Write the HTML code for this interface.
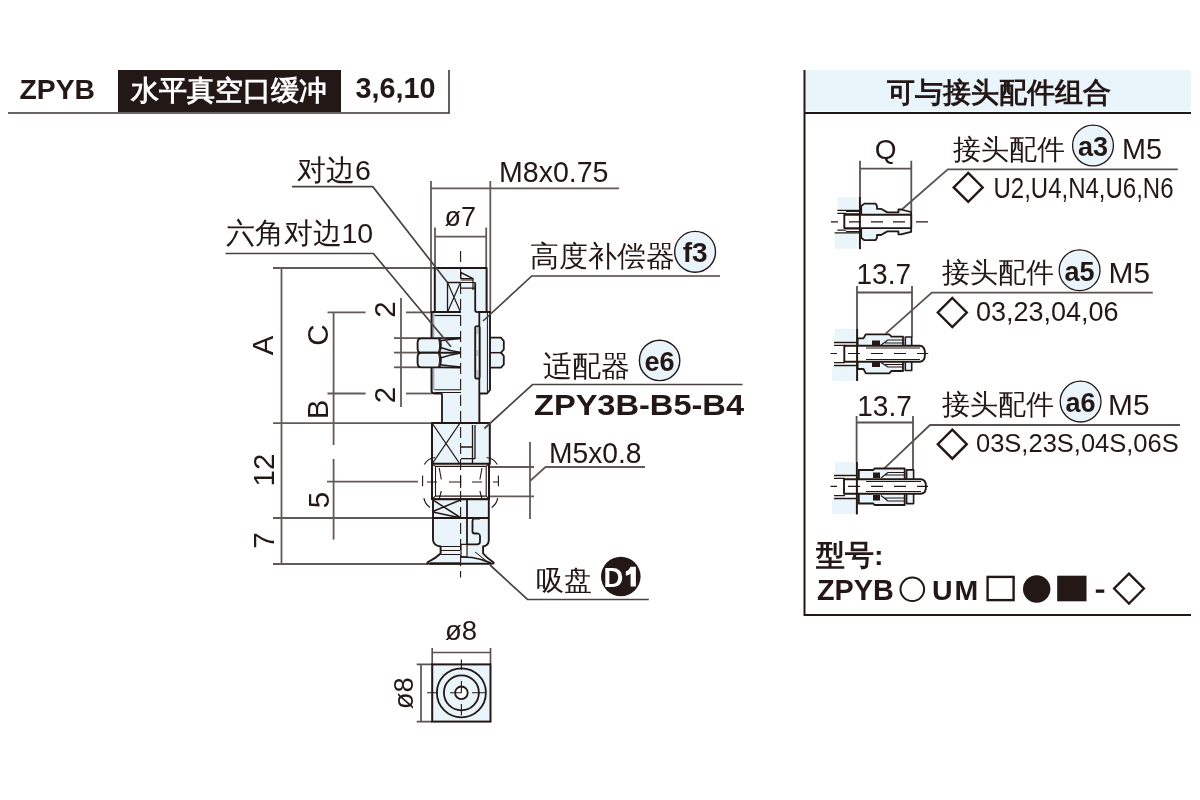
<!DOCTYPE html>
<html><head><meta charset="utf-8">
<style>
html,body{margin:0;padding:0;background:#fff;width:1200px;height:800px;overflow:hidden}
svg{display:block;font-family:"Liberation Sans",sans-serif;will-change:transform}
.d{stroke:#231815;fill:none}
.t{fill:#231815}
.b{font-weight:bold}
</style></head><body>
<svg width="1200" height="800" viewBox="0 0 1200 800">
<!-- HEADER -->
<g id="hdr">
 <text class="t b" x="19.5" y="99" font-size="28.3">ZPYB</text>
 <rect x="118" y="70" width="223" height="43.5" fill="#231815"/>
 <text class="b" x="131" y="100" font-size="28" fill="#fff">水平真空口缓冲</text>
 <text class="t b" x="355.5" y="97.5" font-size="28.8">3,6,10</text>
 <line x1="8" y1="113" x2="449.5" y2="113" stroke="#6a6462" stroke-width="2"/>
 <line x1="449" y1="70" x2="449" y2="113.5" stroke="#4a4240" stroke-width="1.7"/>
</g>

<!-- LEFT DRAWING -->
<g id="dims" stroke="#625a58" fill="none" stroke-width="1.8">
 <!-- M8 -->
 <line x1="431" y1="181" x2="431" y2="312"/>
 <line x1="490.3" y1="181" x2="490.3" y2="312"/>
 <line x1="431" y1="188.3" x2="619" y2="188.3"/>
 <!-- o7 -->
 <line x1="435" y1="227.5" x2="435" y2="268"/>
 <line x1="486.2" y1="227.5" x2="486.2" y2="268"/>
 <line x1="435" y1="236.6" x2="486.2" y2="236.6"/>
 <!-- horizontal ext lines -->
 <line x1="273" y1="268" x2="435" y2="268"/>
 <line x1="273" y1="423.2" x2="432" y2="423.2"/>
 <line x1="273" y1="518" x2="432" y2="518"/>
 <line x1="273" y1="564" x2="428" y2="564"/>
 <line x1="281.5" y1="268" x2="281.5" y2="564"/>
 <line x1="333.6" y1="312" x2="333.6" y2="445"/>
 <line x1="333.6" y1="459" x2="333.6" y2="539.6"/>
 <line x1="327.5" y1="312.4" x2="365.6" y2="312.4"/>
 <line x1="406" y1="312.4" x2="435" y2="312.4"/>
 <line x1="327.5" y1="393.5" x2="365.6" y2="393.5"/>
 <line x1="406" y1="393.5" x2="432" y2="393.5"/>
 <line x1="401" y1="298" x2="401" y2="407"/>
 <line x1="394" y1="338.1" x2="420" y2="338.1"/>
 <line x1="394" y1="352.6" x2="420" y2="352.6"/>
 <line x1="394" y1="367.3" x2="420" y2="367.3"/>
 <line x1="327" y1="481.6" x2="418" y2="481.6"/>
 <!-- M5 right -->
 <line x1="490" y1="467" x2="534" y2="467"/>
 <line x1="490" y1="496.3" x2="534" y2="496.3"/>
 <line x1="530" y1="442" x2="530" y2="519"/>
 <polyline points="530,481 545.5,467 645,467"/>
</g>

<!-- PART -->
<g id="part" stroke="#231815" stroke-linejoin="round">
 <!-- nuts right -->
 <path d="M489,337.7 L501,337.7 L503.8,341 L503.8,349.5 L501,352.7 L503.8,356 L503.8,364.5 L501,367.7 L489,367.7 Z" fill="#e9f4fb" stroke-width="1.8"/>
 <line x1="490" y1="352.7" x2="501" y2="352.7" stroke-width="1.5"/>
 <!-- threaded body -->
 <rect x="431.5" y="312" width="58.5" height="81.5" fill="#e9f4fb" stroke="none"/>
 <rect x="432" y="313" width="2.4" height="77" fill="#a9b0b6" stroke="none"/>
 <path d="M460.75,312 L431.5,312 L431.5,390.5 Q431.5,393.5 434.5,393.5 L442,393.5" fill="none" stroke-width="1.9"/>
 <path d="M477.4,312 L490,312 L490,390 L487,393.5 L479.3,393.5" fill="none" stroke-width="1.9"/>
 <line x1="434.5" y1="315.5" x2="460.6" y2="315.5" stroke-width="1.2"/>
 <path d="M434.5,389.8 L461,389.8 M434.5,392.6 L461,392.6" stroke-width="1.1" fill="none"/>
 <line x1="479.3" y1="312" x2="479.3" y2="423" stroke-width="1.8"/>
 <line x1="487.4" y1="312" x2="487.4" y2="392" stroke-width="1"/>
 <rect x="475.1" y="326" width="4.6" height="52.7" rx="2" fill="#b8bec4" stroke-width="1.7"/>
 <path d="M477.4,334 L477.4,350 M477.4,356 L477.4,370" stroke="#fff" stroke-width="1.2" fill="none"/>
 <!-- nuts left -->
 <path d="M439.2,338.2 L421.5,338.2 Q417.6,338.2 417.6,342.5 L417.6,348.5 Q417.6,352.8 421.5,352.8 L439.2,352.8 Q441,345.5 439.2,338.2 Z" fill="#e9f4fb" stroke-width="1.9"/>
 <path d="M439.2,352.8 L421.5,352.8 Q417.6,352.8 417.6,357 L417.6,363 Q417.6,367.4 421.5,367.4 L439.2,367.4 Q441,360 439.2,352.8 Z" fill="#e9f4fb" stroke-width="1.9"/>
 <path d="M439.2,338.2 L460.9,338.2 L460.9,367.4 L439.2,367.4 Q441,360 439.2,352.8 Q441,345.5 439.2,338.2 Z" fill="#e9f4fb" stroke="none"/>
 <path d="M439.2,338.2 L460.9,338 M439.2,352.8 L460.9,352.8 M439.2,367.4 L460.9,367.6" fill="none" stroke-width="1.9"/>
 <path d="M440.5,340.8 Q450,339.5 460.9,338.5 M440.5,347.5 Q450,351 460.9,352.5 M440.5,358 Q450,354.5 460.9,353 M440.5,364.8 Q450,366.2 460.9,367" fill="none" stroke-width="1.6"/>
 <path d="M439.2,338.2 Q442.5,345.5 439.2,352.8 Q442.5,360 439.2,367.4" fill="none" stroke-width="2"/>
 <!-- hex top -->
 <rect x="434.8" y="268" width="51.8" height="44" fill="#e9f4fb" stroke="none"/>
 <path d="M460.75,312 L434.8,312 L434.8,268 L486.6,268 L486.6,312 L477.4,312" fill="none" stroke-width="2"/>
 <path d="M447.5,312 L447.5,282.5 L460.75,282.5" stroke-width="1.3" fill="none"/>
 <path d="M447.5,282.5 L460.5,312 M460.5,282.5 L447.5,312" stroke-width="1.2" fill="none"/>
 <path d="M460.75,272.5 L473,278.6 L460.75,278.6 Z" fill="#fff" stroke-width="1.4"/>
 <path d="M460.75,280 L473,280 M460.75,282.5 L475.2,282.5 M460.75,288.2 L475.2,288.2 M473,278.6 L473,290" fill="none" stroke-width="1.2"/>
 <path d="M475.2,282.5 L475.2,309.7 Q475.2,312 477.4,312" fill="none" stroke-width="1.8"/>
 <!-- lower shaft -->
 <rect x="442" y="393" width="37.3" height="30" fill="#e9f4fb" stroke="none"/>
 <path d="M442,393.5 L442,423 M479.3,393 L479.3,423" stroke-width="1.8" fill="none"/>
 <!-- lower hex -->
 <rect x="432" y="423" width="57.8" height="41" fill="#e9f4fb" stroke-width="2"/>
 <path d="M432,423 L460,464 M460,423 L432,464" fill="none" stroke-width="1.3"/>
 <path d="M472.5,425 L472.5,466 M475,425 L475,459 M461,447 L473,447 M461,458.7 L475,458.7" fill="none" stroke-width="1.3"/>
 <!-- thread hole -->
 <rect x="432" y="463.8" width="57" height="35.4" fill="#fff" stroke-width="2"/>
 <path d="M432.5,464.5 L435.5,466.4 L486.2,466.4 L488.5,464.5 M432.5,498.5 L435.5,496.1 L486.2,496.1 L488.5,498.5 M435.5,466.4 L435.5,496.1 M486.2,466.4 L486.2,496.1" stroke-width="1.1" fill="none"/>
 <path d="M427,482 L437,482 M449,482 L460,482 M472,482 L482,482 M493,482 L498.4,482" stroke-width="1" fill="none"/>
 <path d="M422.6,475.6 L422.6,486.3 M460.6,476 L460.6,488 M498.4,475.6 L498.4,486.3" stroke-width="1.1" fill="none"/>
 <path d="M439.2,468 L441.3,479.5 M441.3,491 L439.2,499 M482,468 L479.9,479.5 M479.9,491 L482,499" stroke-width="1.1" fill="none"/>
 <path d="M424.3,464.5 A14,14 0 0 1 435,457.5 M423.9,498.2 A14,14 0 0 0 430,507.5 M497.3,464.5 A14,14 0 0 0 486.6,457.5 M497.7,498.2 A14,14 0 0 1 491.6,507.5" fill="none" stroke-width="1.2"/>
 <!-- second X box & cup -->
 <path d="M433,499.2 L433,540 Q433.5,545.5 440.6,546.5 L440.6,553.5 Q436,558 428,562 Q426,563.8 430,563.8 L491,563.8 Q495,563.8 493,562 Q487,558 483.1,553.5 L483.1,546.5 Q488.8,545.5 488.8,540 L488.8,499.2 Z" fill="#e9f4fb" stroke-width="1.9"/>
 <line x1="432.4" y1="518" x2="489" y2="518" stroke-width="2"/>
 <path d="M432.8,499.8 L461,518 M432.8,511.5 L461,499.8 M432.8,512 L461,518" fill="none" stroke-width="1.5"/>
 <line x1="467" y1="499" x2="467" y2="545" stroke-width="1.8"/>
 <path d="M480,518.5 L474.5,518.5 Q472.5,519 472.5,521 L472.5,531.5 Q472.5,533.5 475,533.5 L478,533.5 Q480,534 480,536 L480,541.5 Q480,544.4 477,544.4 L467,544.4" fill="none" stroke-width="1.8"/>
 <rect x="461" y="544.4" width="6" height="12.5" fill="#fff" stroke-width="1.2"/>
 <path d="M461,557 L472,557.5 Q482,559 491,563" fill="none" stroke-width="1.4"/>
 <path d="M475,552 L489,563" fill="none" stroke-width="1"/>
 <path d="M430,563.5 L460,563.5" stroke-width="2.2" fill="none"/>
 <path d="M441,546.5 L460,546.5 M441,550.5 L460,550.5 M441,554.5 L460,554.5" fill="none" stroke-width="1.2"/>
 <!-- centerline -->
 <path d="M460.6,251 L460.6,577.5" stroke-width="1.1" stroke-dasharray="11,5" fill="none"/>
</g>
<g stroke="#4a4240" fill="none" stroke-width="1.7">
 <polyline points="292,186.7 372.8,186.7 447.5,282.5"/>
 <polyline points="225.5,253.5 373.3,253.5 451,346.7"/>
 <polyline points="483,321 531.8,276 720,276"/>
 <polyline points="484.4,428.5 532.5,384.5 742.5,384.5"/>
 <polyline points="490,565 527.5,599.5 648.8,599.5"/>
</g>
<!-- BOTTOM VIEW -->
<g id="bview" stroke="#231815">
 <text class="t" x="445" y="640.3" font-size="27.5" stroke="none">ø8</text>
 <text class="t" transform="translate(412.5,693.2) rotate(-90)" font-size="27.5" text-anchor="middle" stroke="none">ø8</text>
 <path d="M432.2,648 L432.2,664 M490.5,648 L490.5,664 M432.2,652.5 L490.5,652.5 M416.7,664.4 L432,664.4 M416.7,721.6 L432,721.6 M421,664.4 L421,721.6" stroke="#5a5250" stroke-width="1.7" fill="none"/>
 <rect x="432.2" y="664.4" width="58.3" height="57.2" fill="#e9f4fb" stroke-width="2"/>
 <circle cx="461.4" cy="692.8" r="24.5" fill="none" stroke-width="1.8"/>
 <circle cx="461.4" cy="692.8" r="17.5" fill="none" stroke-width="1.8"/>
 <circle cx="461.4" cy="692.8" r="6.3" fill="#fff" stroke-width="1.8"/>
 <path d="M461.4,659.5 L461.4,670 M461.4,681 L461.4,692.8 M461.4,704 L461.4,715.5 M427,692.8 L438,692.8 M450,692.8 L461.4,692.8 M472,692.8 L486,692.8" stroke-width="1.1" fill="none"/>
</g>
<g id="dimtext" class="t">
 <text x="297" y="179.5" font-size="28.5">对边6</text>
 <text x="225.5" y="243" font-size="28.5">六角对边10</text>
 <text x="499" y="181.7" font-size="28.7" textLength="109.5" lengthAdjust="spacingAndGlyphs">M8x0.75</text>
 <text x="444.5" y="226" font-size="27">ø7</text>
 <text x="529.8" y="265.5" font-size="28.6">高度补偿器</text>
 <text x="542.5" y="375.5" font-size="28.9">适配器</text>
 <text class="b" x="534" y="415" font-size="29.5" textLength="210" lengthAdjust="spacingAndGlyphs">ZPY3B-B5-B4</text>
 <text x="549" y="463.2" font-size="28.7" textLength="92.5" lengthAdjust="spacingAndGlyphs">M5x0.8</text>
 <text x="536" y="589.5" font-size="28">吸盘</text>
 <g font-size="29.5" text-anchor="middle">
  <text transform="translate(273,345.5) rotate(-90)">A</text>
  <text transform="translate(328,335) rotate(-90)">C</text>
  <text transform="translate(328,409.5) rotate(-90)">B</text>
  <text transform="translate(394.5,309.6) rotate(-90)">2</text>
  <text transform="translate(394.5,395) rotate(-90)">2</text>
  <text transform="translate(273.5,470) rotate(-90)">12</text>
  <text transform="translate(329,500) rotate(-90)">5</text>
  <text transform="translate(273.5,540.5) rotate(-90)">7</text>
 </g>
</g>
<g id="badges">
 <circle cx="695.1" cy="251.8" r="20.4" fill="#e9f4fb" stroke="#231815" stroke-width="1.4"/>
 <text class="t b" x="695.1" y="262" font-size="28" text-anchor="middle">f3</text>
 <circle cx="659.6" cy="360.4" r="20.2" fill="#e9f4fb" stroke="#231815" stroke-width="1.4"/>
 <text class="t b" x="659.6" y="370.5" font-size="27" text-anchor="middle">e6</text>
 <circle cx="620.8" cy="576.5" r="19.8" fill="#231815"/>
 <text class="b" x="603.5" y="586.6" font-size="27.5" fill="#fff">D</text>
 <path d="M630.6,566.8 L635.9,566.8 L635.9,586.6 L630.6,586.6 L630.6,573.8 Q628.5,575.3 625.8,575.8 L625.8,571.6 Q629,570.5 630.6,566.8 Z" fill="#fff"/>
</g>
<!-- RIGHT PANEL -->
<g id="panel">
 <rect x="805" y="70" width="386" height="41" fill="#e9f4fb"/>
 <line class="d" x1="804.5" y1="70" x2="804.5" y2="616" stroke-width="2"/>
 <line class="d" x1="804" y1="113" x2="1191" y2="113" stroke-width="2.2"/>
 <line class="d" x1="804" y1="615" x2="1191" y2="615" stroke-width="2"/>
 <text class="t b" x="887" y="102" font-size="27.8">可与接头配件组合</text>
 <!-- dims & leaders -->
 <g stroke="#5a5250" fill="none" stroke-width="1.8">
  <path d="M860,160.8 L860,197 M911.3,160.8 L911.3,212 M860,168.6 L911.3,168.6"/>
  <path d="M857,286 L857,329 M912,286 L912,337 M857,292.5 L912,292.5"/>
  <path d="M856.6,416 L856.6,462 M913,416 L913,469 M856.6,422.5 L913,422.5"/>
  <polyline points="901,210.3 947.8,169.3 1177.8,169.3"/>
  <polyline points="885.7,333.7 931.8,292.7 1152.8,292.7"/>
  <polyline points="884,468.6 930,425 1180,425"/>
 </g>
 <g class="t">
  <text x="885.7" y="158.5" font-size="28" text-anchor="middle">Q</text>
  <text x="856.5" y="284.4" font-size="29.3" textLength="54.5" lengthAdjust="spacingAndGlyphs">13.7</text>
  <text x="857.3" y="416" font-size="29.3" textLength="54.5" lengthAdjust="spacingAndGlyphs">13.7</text>
  <text x="953" y="158.5" font-size="27.5">接头配件</text>
  <text x="942" y="281.5" font-size="27.8">接头配件</text>
  <text x="942" y="414" font-size="27.5">接头配件</text>
  <text x="1122" y="158.5" font-size="29" textLength="40" lengthAdjust="spacingAndGlyphs">M5</text>
  <text x="1108.5" y="282.5" font-size="29" textLength="41.5" lengthAdjust="spacingAndGlyphs">M5</text>
  <text x="1108" y="414.7" font-size="29" textLength="41.5" lengthAdjust="spacingAndGlyphs">M5</text>
  <text x="993.5" y="198.4" font-size="29" textLength="180" lengthAdjust="spacingAndGlyphs">U2,U4,N4,U6,N6</text>
  <text x="976" y="321" font-size="27">03,23,04,06</text>
  <text x="976" y="452" font-size="25.5">03S,23S,04S,06S</text>
 </g>
 <g fill="none" stroke="#231815" stroke-width="2.4" stroke-linejoin="miter">
  <path d="M968.2,172.9 L982.7,187.4 L968.2,201.9 L953.7,187.4 Z"/>
  <path d="M952.3,298 L966.8,312.5 L952.3,327 L937.8,312.5 Z"/>
  <path d="M952.3,429.7 L966.8,444.2 L952.3,458.7 L937.8,444.2 Z"/>
 </g>
 <g>
  <circle cx="1093" cy="145.5" r="20.4" fill="#e9f4fb" stroke="#231815" stroke-width="1.3"/>
  <text class="t b" x="1093" y="155.8" font-size="27" text-anchor="middle">a3</text>
  <circle cx="1079.6" cy="270.2" r="20.4" fill="#e9f4fb" stroke="#231815" stroke-width="1.3"/>
  <text class="t b" x="1079.6" y="280.5" font-size="27" text-anchor="middle">a5</text>
  <circle cx="1080.6" cy="401.6" r="20.4" fill="#e9f4fb" stroke="#231815" stroke-width="1.3"/>
  <text class="t b" x="1080.6" y="412.3" font-size="27" text-anchor="middle">a6</text>
 </g>
 <!-- model -->
 <g class="t b">
  <text x="816" y="565" font-size="28.5">型号:</text>
  <text x="817" y="599.6" font-size="28.8">ZPYB</text>
  <text x="932" y="599.6" font-size="28.5" letter-spacing="2">UM</text>
 </g>
 <circle cx="912.3" cy="589.3" r="11.8" fill="none" stroke="#231815" stroke-width="2"/>
 <rect x="987.6" y="576.9" width="26" height="23.2" fill="none" stroke="#231815" stroke-width="2.4"/>
 <circle cx="1036.7" cy="589" r="13.7" fill="#231815"/>
 <rect x="1057.2" y="575.7" width="29.3" height="25.6" fill="#231815"/>
 <rect x="1095.8" y="589.5" width="8.5" height="3.3" fill="#231815"/>
 <path d="M1129,573.6 L1144,588.6 L1129,603.6 L1114,588.6 Z" fill="none" stroke="#231815" stroke-width="2.2"/>
 <!-- fittings -->
 <g id="fit1" stroke="#231815" stroke-linejoin="round">
  <rect x="837.4" y="196.9" width="19.7" height="12.8" fill="#e9f4fb" stroke="none"/>
  <rect x="834.6" y="233.1" width="22.5" height="15.6" fill="#e9f4fb" stroke="none"/>
  <path d="M837.4,210.4 L860,210.4 M837.4,213.4 L846,213.4 M837.4,230.1 L846,230.1 M834.6,232.8 L860,232.8" stroke-width="1.3" fill="none"/>
  <path d="M861.2,210.4 L861.2,206 L864.4,203.6 L875.5,203.6 L877,206 L877,208.8 L881,208.8 L887.4,212.4 L898.4,212.4 L898.4,209.5 L901,209.5 L911.2,212 L911.2,231.8 L901,234.3 L898.4,234.3 L898.4,231.4 L887.4,231.4 L881,235 L877,235 L877,237.8 L875.5,240.2 L864.4,240.2 L861.2,237.8 L861.2,233.4 Z" fill="#e9f4fb" stroke-width="1.8"/>
  <path d="M846,211.2 L861,211.2 M846,214 L861,214 M846,228.8 L861,228.8 M846,231.6 L861,231.6" stroke-width="1.4" fill="none"/>
  <rect x="844.3" y="214.8" width="66.9" height="13.3" fill="#fff" stroke-width="1.9"/>
  <line x1="859.9" y1="197" x2="859.9" y2="249.2" stroke-width="2"/>
  <path d="M831,221.9 L838,221.9 M849,221.9 L861,221.9 M871,221.9 L883,221.9 M893,221.9 L905,221.9 M916,221.9 L928,221.9" stroke-width="1.2" fill="none"/>
 </g>
 <g id="fit2" stroke="#231815" stroke-linejoin="round">
  <rect x="834.6" y="328.8" width="21.1" height="12.8" fill="#e9f4fb" stroke="none"/>
  <rect x="832.3" y="365.5" width="23.4" height="15.5" fill="#e9f4fb" stroke="none"/>
  <path d="M834,342.5 L857,342.5 M834,345.3 L845,345.3 M834,362.7 L845,362.7 M834,365.5 L857,365.5" stroke-width="1.3" fill="none"/>
  <path d="M857.6,342.5 L857.6,338.4 L863.5,338.4 L865.8,334.3 L889.2,334.3 L891.5,336.6 L903,336.6 L903,371 L891.5,371 L889.2,373.3 L865.8,373.3 L863.5,369 L857.6,369 L857.6,365 Z" fill="#e9f4fb" stroke-width="1.8"/>
  <rect x="905.3" y="337" width="6.4" height="33.5" fill="#e9f4fb" stroke-width="1.6"/>
  <path d="M872,340.5 L880,340.5 L880,345.5 L872,345.5 Z M872,362 L880,362 L880,367 L872,367 Z" fill="#231815" stroke="none"/>
  <path d="M881,345 L888,340 L903,340 M881,362.5 L888,367 L903,367 M885,343 L903,343 M885,364.5 L903,364.5" fill="none" stroke-width="1.1"/>
  <path d="M844.3,345.7 L920,345.7 Q925,346 925,353.7 Q925,361.5 920,361.8 L844.3,361.8 Z" fill="#fff" stroke-width="1.9"/>
  <path d="M866,348 L920,348 M866,359.5 L920,359.5" stroke-width="1" fill="none"/>
  <line x1="857.1" y1="329" x2="857.1" y2="381" stroke-width="2"/>
  <path d="M830.5,353.5 L837,353.5 M848,353.5 L860,353.5 M871,353.5 L883,353.5 M894,353.5 L906,353.5 M917,353.5 L928.2,353.5" stroke-width="1.2" fill="none"/>
 </g>
 <g id="fit3" stroke="#231815" stroke-linejoin="round">
  <rect x="834.8" y="461.9" width="21.2" height="12.6" fill="#e9f4fb" stroke="none"/>
  <rect x="832" y="498.5" width="24" height="15.5" fill="#e9f4fb" stroke="none"/>
  <path d="M834,475.5 L857,475.5 M834,478.3 L845,478.3 M834,495.7 L845,495.7 M834,498.5 L857,498.5" stroke-width="1.3" fill="none"/>
  <path d="M858.8,475.5 L858.8,470 L873.3,470 L874.5,468.5 L904.7,468.5 L904.7,505 L874.5,505 L873.3,503.5 L858.8,503.5 L858.8,498 Z" fill="#e9f4fb" stroke-width="1.8"/>
  <rect x="906.6" y="469.9" width="7" height="33.7" fill="#e9f4fb" stroke-width="1.6"/>
  <path d="M873,472.5 L880,472.5 L880,478 L873,478 Z M873,495 L880,495 L880,500.5 L873,500.5 Z" fill="#231815" stroke="none"/>
  <path d="M881,478 L888,472.5 L904,472.5 M881,495.5 L888,501 L904,501 M885,475 L904,475 M885,498 L904,498" fill="none" stroke-width="1.1"/>
  <path d="M844,479.2 L921,479.2 Q926,479.5 926,486.5 Q926,493.5 921,493.8 L844,493.8 Z" fill="#fff" stroke-width="1.9"/>
  <path d="M866,481.5 L921,481.5 M866,491.5 L921,491.5" stroke-width="1" fill="none"/>
  <line x1="856.9" y1="462" x2="856.9" y2="514.4" stroke-width="2"/>
  <path d="M830.5,486.3 L837,486.3 M848,486.3 L860,486.3 M871,486.3 L883,486.3 M894,486.3 L906,486.3 M917,486.3 L928,486.3" stroke-width="1.2" fill="none"/>
 </g>

</g>
</svg>
</body></html>
